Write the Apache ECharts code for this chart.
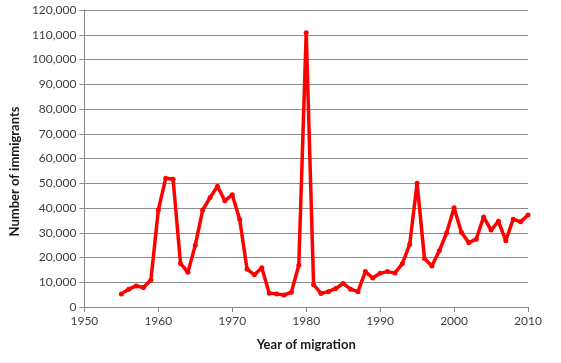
<!DOCTYPE html>
<html><head><meta charset="utf-8">
<script src="https://cdn.jsdelivr.net/npm/echarts@6/dist/echarts.min.js"></script>
<style>html,body{margin:0;padding:0;background:#fff}#c{width:561px;height:363px}</style>
</head><body><div id="c"></div>
<script>
const years = [1955,1956,1957,1958,1959,1960,1961,1962,1963,1964,1965,1966,1967,1968,1969,1970,1971,1972,1973,1974,1975,1976,1977,1978,1979,1980,1981,1982,1983,1984,1985,1986,1987,1988,1989,1990,1991,1992,1993,1994,1995,1996,1997,1998,1999,2000,2001,2002,2003,2004,2005,2006,2007,2008,2009,2010];
const immigrants = [5300,7200,8500,7900,10900,39200,52000,51600,17600,14000,25000,39200,44200,48800,42900,45400,35500,15300,13000,15900,5600,5300,4800,6000,16900,110800,9000,5500,6200,7500,9500,7200,6200,14300,11700,13600,14300,13700,17500,25300,50000,19600,16600,22700,30000,40100,30100,26000,27400,36400,31100,34600,26800,35500,34400,37200];
const xTitle = 'Year of migration';
const yTitle = 'Number of immigrants';
const fontFam = 'Lato, "Open Sans", sans-serif';
const chart = echarts.init(document.getElementById('c'));
chart.setOption({
  animation:false,
  grid:{left:83,right:33,top:10,bottom:56,containLabel:false},
  xAxis:{type:'value',min:1950,max:2010,interval:10,
    name:xTitle,nameLocation:'middle',nameGap:31,
    nameTextStyle:{fontFamily:fontFam,fontWeight:'bold',fontSize:13,color:'#1a1a1a'},
    axisLine:{lineStyle:{color:'#868686'}},
    axisTick:{show:true,length:5,lineStyle:{color:'#868686'}},
    axisLabel:{fontFamily:fontFam,fontSize:12,color:'#404040',margin:8,formatter:v=>String(v)},
    splitLine:{show:false}},
  yAxis:{type:'value',min:0,max:120000,interval:10000,
    name:yTitle,nameLocation:'middle',nameGap:62,
    nameTextStyle:{fontFamily:fontFam,fontWeight:'bold',fontSize:13,color:'#1a1a1a',padding:[0,26,0,0]},
    axisLine:{show:true,lineStyle:{color:'#868686'}},
    axisTick:{show:true,length:5,lineStyle:{color:'#868686'}},
    axisLabel:{fontFamily:fontFam,fontSize:12,color:'#404040',margin:8,
      formatter:v=>v.toLocaleString('en-US')},
    splitLine:{show:true,lineStyle:{color:'#8c8c8c',width:1}}},
  series:[{type:'line',data:years.map((y,i)=>[y,immigrants[i]]),
    lineStyle:{color:'#ff0000',width:3.5},
    itemStyle:{color:'#ff0000'},
    symbol:'circle',symbolSize:5,showSymbol:true}]
});
</script></body></html>
